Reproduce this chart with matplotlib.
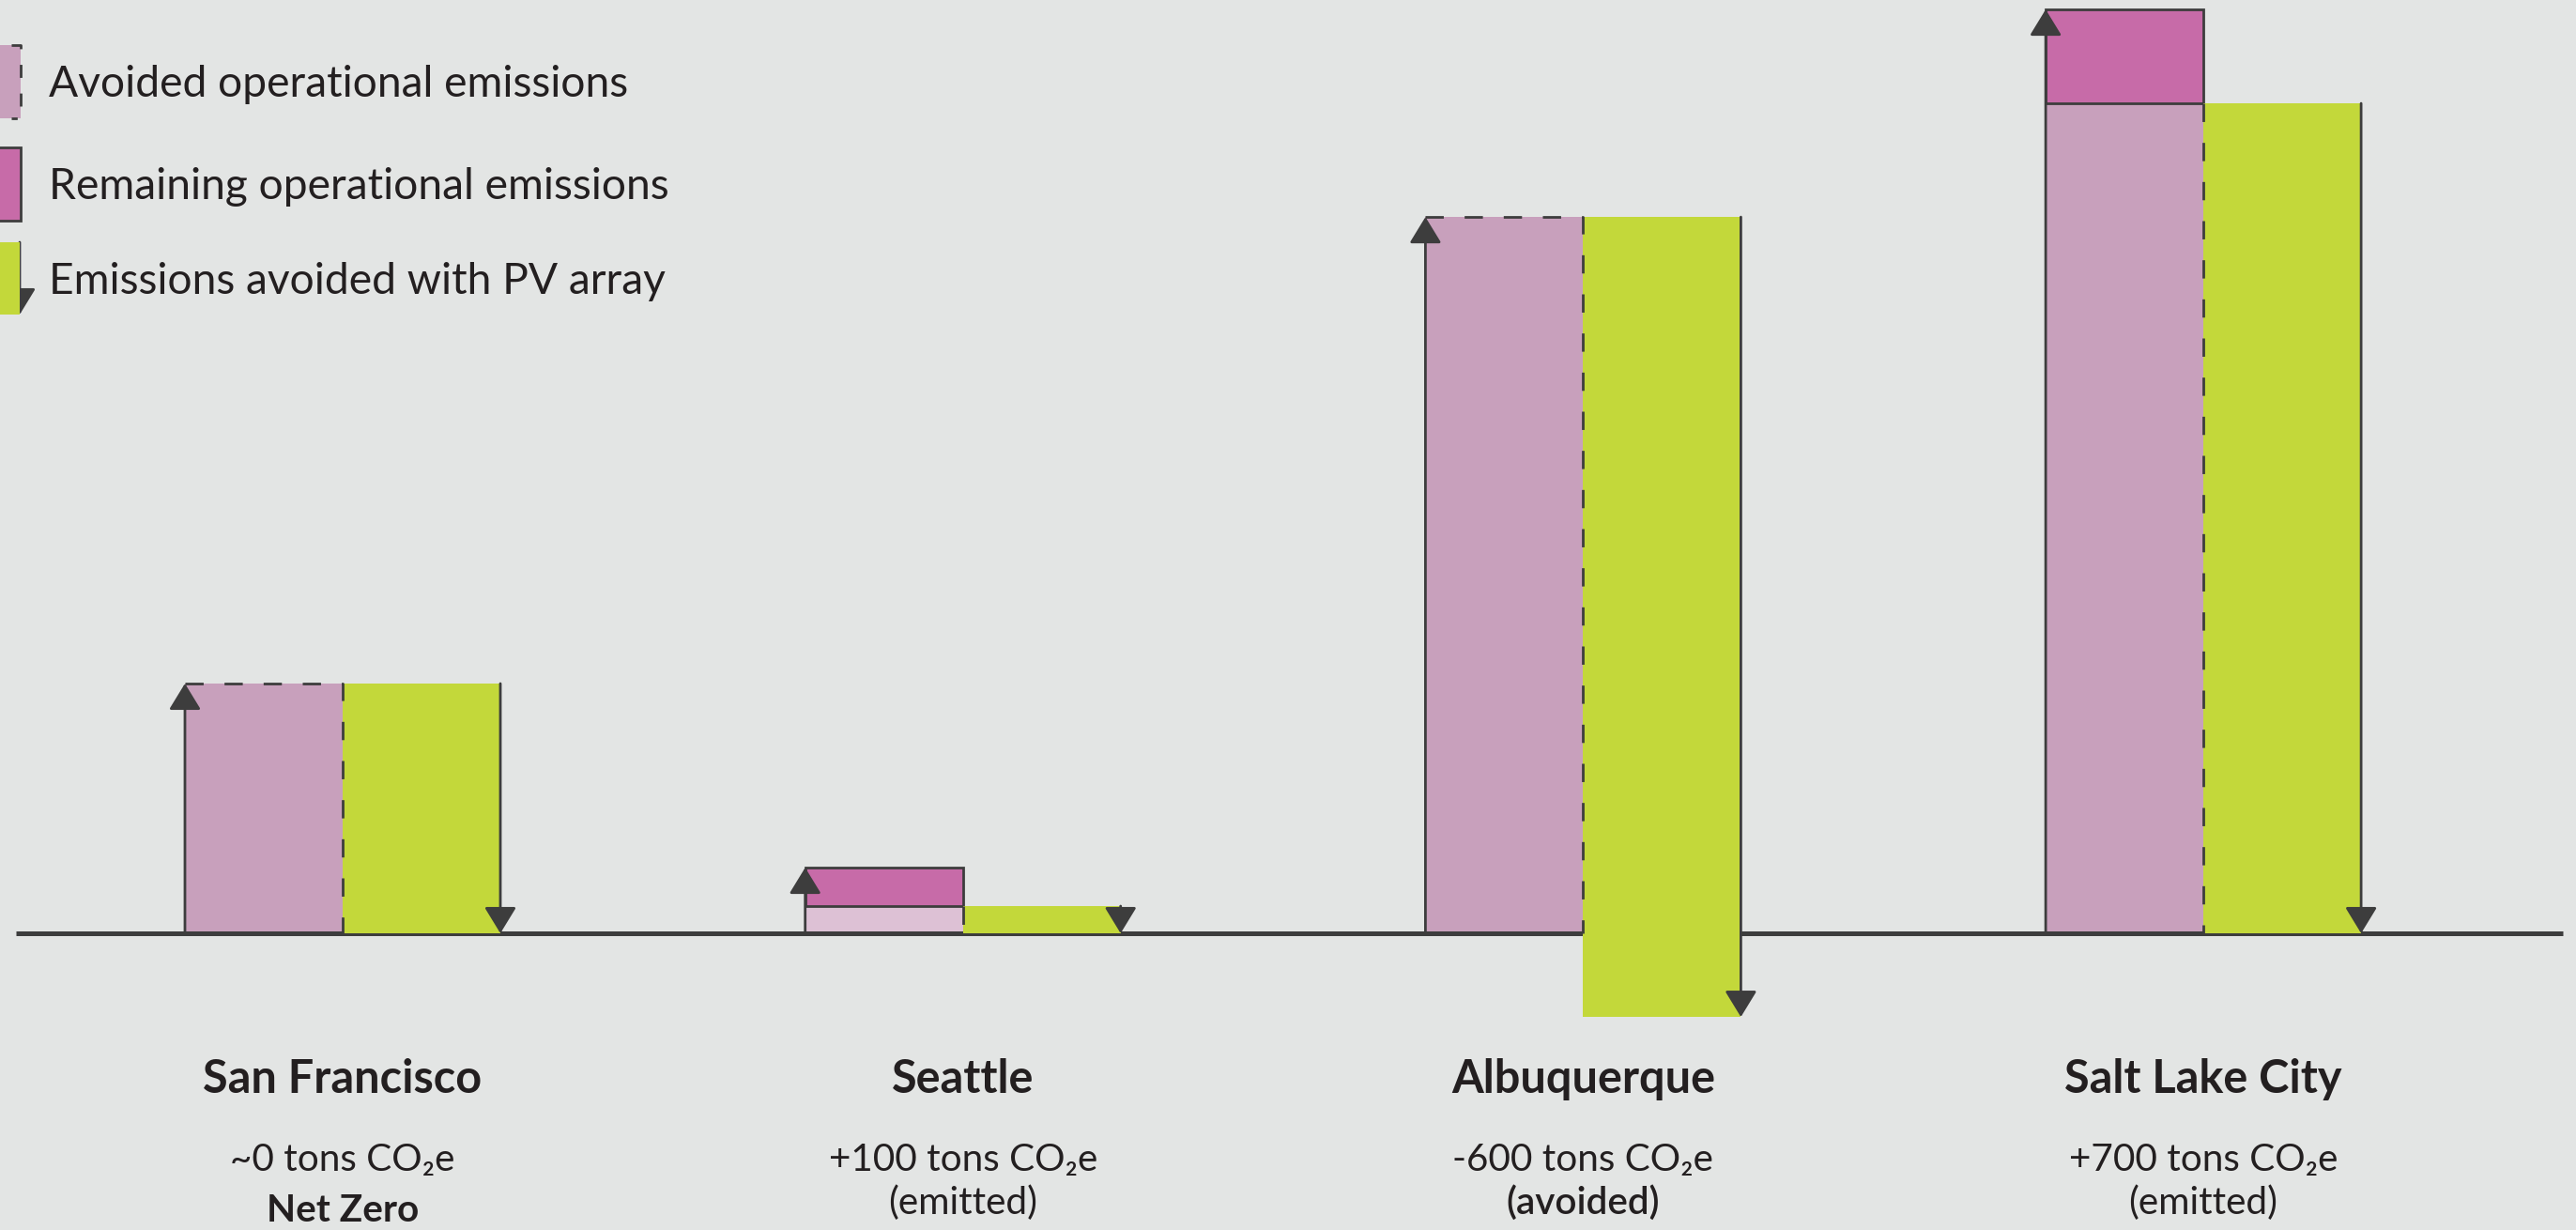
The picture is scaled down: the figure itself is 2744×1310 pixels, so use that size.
import numpy as np
import matplotlib.pyplot as plt
from matplotlib.patches import Rectangle
from matplotlib.transforms import Affine2D

plt.rcParams['font.family'] = ['Lato', 'DejaVu Sans']

# values (arbitrary bar units)
cities = ['San Francisco', 'Seattle', 'Albuquerque', 'Salt Lake City']
avoided = [100, 10.9, 286.8, 332.3]
remaining = [0, 15.4, 0, 37.6]
pv_array = [100, 10.9, 320.3, 332.3]
net_labels = ['~0 tons CO\u2082e', '+100 tons CO\u2082e', '-600 tons CO\u2082e', '+700 tons CO\u2082e']
notes = ['Net Zero', '(emitted)', '(avoided)', '(emitted)']
note_bold = [True, False, True, False]
legend_labels = ['Avoided operational emissions', 'Remaining operational emissions',
                 'Emissions avoided with PV array']

BG = '#e3e5e4'
PINK = '#c8a0bc'
PINK_LIGHT = '#ddc1d5'
MAGENTA = '#c76ba8'
GREEN = '#c3d83a'
DARK = '#3d3d3d'
TXT = '#231f20'

W, H = 2744, 1310
fig = plt.figure(figsize=(W / 200, H / 200), dpi=200, facecolor=BG)
ax = fig.add_axes([0, 0, 1, 1])
ax.set_facecolor(BG)
ax.axis('off')

# layout: group centres 660.7 px apart, first at 365 px; baseline at 994 px, 2.66 px per unit
ax.set_xlim(-365 / 660.7, (W - 365) / 660.7)
ax.set_ylim(-(H - 994) / 2.66, 994 / 2.66)

px = Affine2D().scale(1 / W, -1 / H).translate(0, 1) + fig.transFigure

w = 168 / 660.7
lw = 1.0
dash = (0, (7, 8))
arrow = dict(arrowstyle='-|>,head_length=0.36,head_width=0.22', color=DARK, lw=lw,
             mutation_scale=24, shrinkA=0, shrinkB=0)

x = np.arange(len(cities))

# baseline
ax.plot([-348 / 660.7, (2730 - 365) / 660.7], [0, 0], color=DARK, lw=1.8, zorder=3,
        solid_capstyle='butt')

for i in range(len(cities)):
    a = avoided[i]
    r = remaining[i]
    p = pv_array[i]
    col = PINK_LIGHT if r > 0 and a < 20 else PINK
    ax.bar(x[i] - w / 2, a, w, color=col, zorder=2)
    if r > 0:
        ax.bar(x[i] - w / 2, r, w, bottom=a, color=MAGENTA, edgecolor=DARK, lw=lw, zorder=4)
        ax.plot([x[i], x[i]], [a, 0], color=DARK, lw=lw, ls=dash, zorder=6)
    else:
        ax.plot([x[i] - w, x[i], x[i]], [a, a, 0], color=DARK, lw=lw, ls=dash, zorder=6)
    ax.annotate('', xy=(x[i] - w, a + r), xytext=(x[i] - w, 0), arrowprops=arrow, zorder=7)

    # PV bar hangs down from the top of the avoided bar
    ax.bar(x[i] + w / 2, p, w, bottom=a - p, color=GREEN, zorder=5)
    ax.annotate('', xy=(x[i] + w, a - p), xytext=(x[i] + w, a), arrowprops=arrow, zorder=7)

    cx = (365 + 660.7 * i)
    fig.text(cx, 1164, cities[i], transform=px, ha='center', va='baseline',
             fontsize=17.5, fontweight='bold', color=TXT)
    fig.text(cx, 1247, net_labels[i], transform=px, ha='center', va='baseline',
             fontsize=14.6, color=TXT)
    if note_bold[i] and i == 0:
        fig.text(cx, 1301, notes[i], transform=px, ha='center', va='baseline',
                 fontsize=14.6, fontweight='bold', color=TXT)
    else:
        fig.text(cx, 1293, notes[i], transform=px, ha='center', va='baseline',
                 fontsize=14.6, fontweight='semibold' if note_bold[i] else 'normal', color=TXT)

# legend swatches in pixel space
fig.patches.append(Rectangle((-10, 48), 32, 78, transform=px, color=PINK, lw=0))
fig.lines.append(plt.Line2D([12, 22, 22, 12], [48, 48, 126, 126], transform=px,
                            color=DARK, lw=lw, ls=(0, (5, 6))))
fig.patches.append(Rectangle((-10, 157), 32, 78, transform=px, facecolor=MAGENTA,
                             edgecolor=DARK, lw=lw))
fig.patches.append(Rectangle((-10, 258), 31, 77, transform=px, color=GREEN, lw=0))
ax.annotate('', xy=(21, 335), xytext=(21, 258), xycoords=px, textcoords=px, arrowprops=arrow)

for label, cy in zip(legend_labels, [90, 199, 300]):
    fig.text(52, cy, label, transform=px, ha='left', va='center', fontsize=16.6, color=TXT)

fig.savefig('out.png', dpi=200, facecolor=BG)
